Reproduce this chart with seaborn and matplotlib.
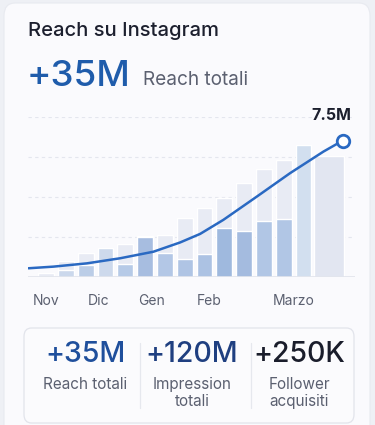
import matplotlib
matplotlib.use("Agg")
import matplotlib.pyplot as plt
from matplotlib.patches import FancyBboxPatch
import seaborn as sns
import pandas as pd

# reach per week slot (M)
slots = list(range(15))
back_values = [0.24, 0.90, 1.30, 1.62, 1.80, 2.24, 2.31, 3.23, 3.80, 4.33, 5.16, 5.94, 6.44, 7.26, 6.68]
front_values = [0.0, 0.39, 0.66, 1.62, 0.71, 2.22, 1.30, 1.01, 1.27, 2.70, 2.53, 3.08, 3.19, 0.0, 0.0]
back_colors = ["#e6eaf6"] * 13 + ["#cddef4", "#e0e5f3"]
front_colors = ["#c8d9f2", "#c6d7f1", "#b3cbef", "#c8d8f1", "#aec8ef", "#9dbbea", "#aac5ee",
                "#a6c2ed", "#a3c0ec", "#95b7e8", "#9ab9e9", "#a8c4ee", "#a8c4ee", "#cddef4", "#e0e5f3"]

# trend line (slot units, M)
line_x = [-0.89, 0.37, 2.06, 3.74, 5.42, 6.77, 7.78, 8.95, 10.64, 12.32, 14.01, 14.98]
line_y = [0.48, 0.57, 0.75, 1.03, 1.39, 1.90, 2.37, 3.14, 4.42, 5.71, 6.90, 7.50]

month_pos = [0, 2.65, 5.35, 8.25, 12.5]
month_labels = ["Nov", "Dic", "Gen", "Feb", "Marzo"]

stat_values = ["+35M", "+120M", "+250K"]
stat_labels = ["Reach totali", "Impression\ntotali", "Follower\nacquisiti"]
stat_colors = ["#1f4f9c", "#1f3f80", "#1a1d2b"]

W, H = 375, 425


def px(x, y):
    return x / W, 1 - y / H


sns.set_style("white")
plt.rcParams["font.family"] = ["Inter", "DejaVu Sans"]

fig = plt.figure(figsize=(W / 100, H / 100), dpi=100)
fig.patch.set_facecolor("#eef0f5")

card = FancyBboxPatch(px(4, 440), 366 / W, 437 / H, boxstyle="round,pad=0,rounding_size=0.03",
                      transform=fig.transFigure, facecolor="#fafafd", edgecolor="#e8eaf0",
                      linewidth=0.8, zorder=-5)
fig.patches.append(card)

ax = fig.add_axes([28 / W, (H - 277) / H, (355 - 28) / W, (277 - 117) / H])
ax.set_facecolor("none")

df = pd.DataFrame({"slot": slots, "back": back_values, "front": front_values})
sns.barplot(data=df, x="slot", y="back", hue="slot", palette=back_colors, dodge=False,
            legend=False, width=0.8, ax=ax, native_scale=True, zorder=2)
n_back = len(ax.patches)
sns.barplot(data=df, x="slot", y="front", hue="slot", palette=front_colors, dodge=False,
            legend=False, width=0.8, ax=ax, native_scale=True, zorder=3)
# last bar is wider in the reference
last = ax.patches[n_back - 1]
last.set_x(13.55)
last.set_width(1.5)

sns.lineplot(x=line_x, y=line_y, color="#2a69c2", linewidth=1.8, ax=ax, zorder=5)
ax.plot(line_x[-1], line_y[-1], marker="o", markersize=9, markerfacecolor="white",
        markeredgecolor="#2a69c2", markeredgewidth=2, zorder=6, clip_on=False)
ax.text(line_x[-1] - 0.6, line_y[-1] + 1.4, "7.5M", ha="center", va="center", fontsize=11.5,
        fontweight="bold", color="#1c1f2e", clip_on=False)

ax.set_xlim(-0.91, 15.6)
ax.set_ylim(0, 8.8)
ax.set_yticks([2.2, 4.4, 6.6, 8.8])
ax.set_yticklabels([])
ax.yaxis.grid(True, color="#e4e6ee", linewidth=0.8, linestyle=(0, (3, 3)))
ax.axhline(0, color="#e1e4ec", linewidth=1.2, zorder=4)
ax.set_xticks(month_pos)
ax.set_xticklabels(month_labels, fontsize=10, color="#5b6070")
ax.tick_params(axis="x", length=0, pad=12)
ax.tick_params(axis="y", length=0)
ax.set_xlabel("")
ax.set_ylabel("")
for s in ax.spines.values():
    s.set_visible(False)

fig.text(*px(28, 31), "Reach su Instagram", fontsize=14.5, fontweight="medium",
         color="#1c1f2e", va="center", ha="left")
fig.text(*px(27, 76), "+35M", fontsize=26.5, fontweight="medium", color="#1f5cab",
         va="center", ha="left")
fig.text(*px(143, 80), "Reach totali", fontsize=13.7, color="#5b6070", va="center", ha="left")

box = FancyBboxPatch(px(24, 423), 330 / W, 95 / H, boxstyle="round,pad=0,rounding_size=0.02",
                     transform=fig.transFigure, facecolor="#fbfbfd", edgecolor="#e2e4eb",
                     linewidth=0.9, zorder=-1)
fig.patches.append(box)
for xd in [140, 251]:
    fig.add_artist(plt.Line2D([xd / W, xd / W], [1 - 408 / H, 1 - 343 / H],
                              transform=fig.transFigure, color="#e6e8ee", linewidth=0.9))

centers = [85, 192, 299]
for cx, val, lab, col in zip(centers, stat_values, stat_labels, stat_colors):
    fig.text(*px(cx, 355), val, fontsize=20.5, fontweight="medium", color=col,
             ha="center", va="center")
    fig.text(*px(cx, 377), lab, fontsize=11, color="#5b6070", ha="center", va="top",
             linespacing=1.2)

fig.savefig("out.png", dpi=100, facecolor=fig.get_facecolor())
